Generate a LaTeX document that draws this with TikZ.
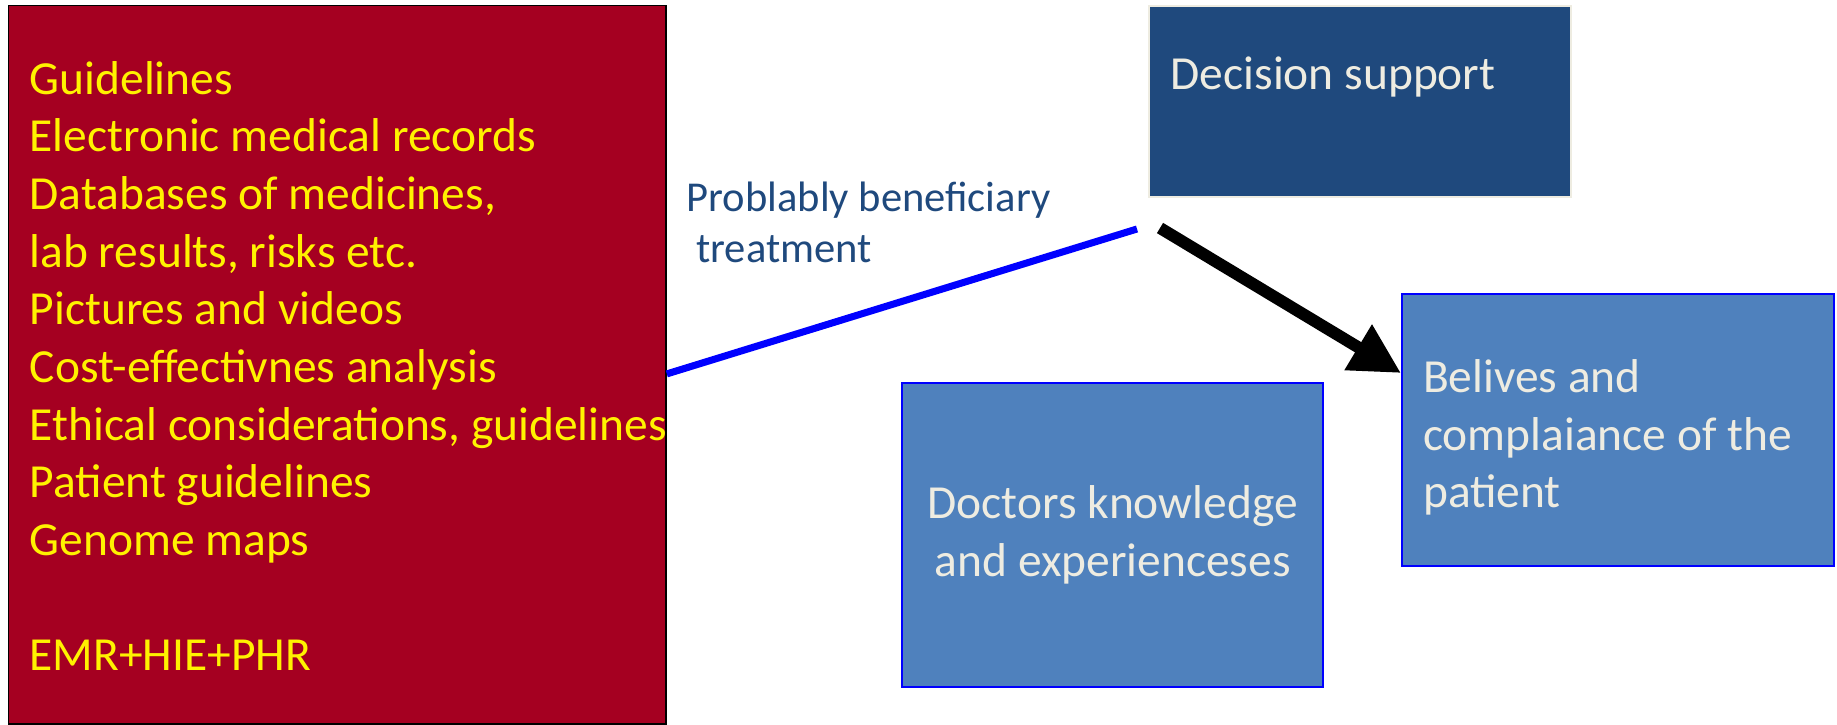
\documentclass[tikz,border=0pt]{standalone}
\usepackage{fontspec}
\setmainfont{Carlito}
\usetikzlibrary{arrows.meta}

\definecolor{sourcered}{RGB}{165,0,33}
\definecolor{darkblue}{RGB}{31,73,125}
\definecolor{midblue}{RGB}{79,129,189}
\definecolor{cream}{RGB}{238,236,225}

\begin{document}
\begin{tikzpicture}[x=0.01cm,y=-0.01cm,
  bigfont/.style={font=\fontsize{13.5}{16.4}\selectfont},
  srcbox/.style={rectangle, fill=sourcered, draw=black, line width=0.4pt, inner sep=0pt},
  srctext/.style={text=yellow, bigfont, align=left, inner sep=0pt},
  panel/.style={rectangle, fill=midblue, draw=blue, line width=0.6pt, text=cream, bigfont, inner sep=0pt},
  darkpanel/.style={rectangle, fill=darkblue, draw=cream, line width=0.6pt, inner sep=0pt},
  treatline/.style={blue, line width=2pt},
  bigarrow/.style={line width=3.4pt, -{Triangle[length=0.5cm,width=0.5cm]}}]

\useasboundingbox (0,0) rectangle (1837,725);

%
%sources of data
%

\node[srcbox, anchor=north west, minimum width=6.57cm, minimum height=7.18cm] (sources) at (8,5) {};
\node[srctext, anchor=west] (sourcelist) at (29,366) {Guidelines\\
  Electronic medical records\\
  Databases of medicines,\\
  lab results, risks etc.\\
  Pictures and videos\\
  Cost-effectivnes analysis\\
  Ethical considerations, guidelines\\
  Patient guidelines\\
  Genome maps\\
  ~\\
  EMR+HIE+PHR};

%
%boxes on the right
%

\node[darkpanel, anchor=north west, minimum width=4.22cm, minimum height=1.91cm] (decision) at (1148,5) {};
\node[anchor=base west, text=cream, bigfont, inner sep=0pt] (decisiontext) at (1170,90) {Decision support};

\node[panel, anchor=north west, minimum width=4.32cm, minimum height=2.72cm, text width=3.9cm, align=flush left] (belief) at (1401,293) {\rule{0pt}{13.6pt}Belives and\\complaiance of the\\patient};

\node[panel, anchor=north west, minimum width=4.21cm, minimum height=3.04cm, align=center] (doctors) at (901,382) {Doctors knowledge\\and experienceses};

%
%links
%

\coordinate (hubleft) at (1137,229); % end of blue line
\coordinate (hubright) at (1160,228); % start of arrow

\node[anchor=west, text=darkblue, font=\fontsize{12.1}{14.5}\selectfont, align=left, inner sep=0pt] (treatlabel) at (686,222) {Problably beneficiary\\~treatment};

\draw[treatline] ([yshift=-0.09cm]sources.east) -- (hubleft);
\draw[bigarrow] (hubright) -- ([yshift=-0.8cm]belief.north west);

\end{tikzpicture}
\end{document}
